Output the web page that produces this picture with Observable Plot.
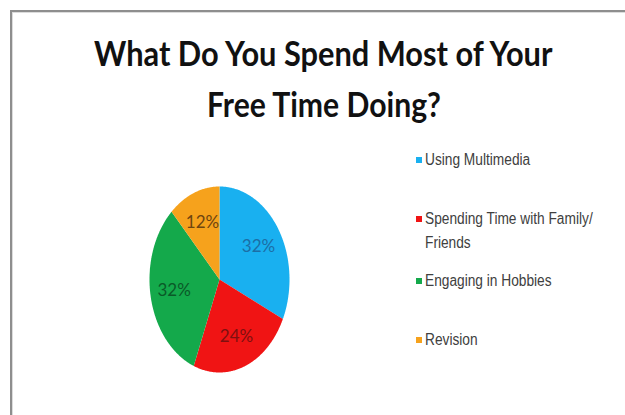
<!DOCTYPE html>
<html><head><meta charset="utf-8">
<script src="https://cdn.jsdelivr.net/npm/d3@7"></script>
<script src="https://cdn.jsdelivr.net/npm/@observablehq/plot@0.6"></script>
<style>
html,body{margin:0;padding:0;background:#fff;}
#chart{position:relative;width:625px;height:415px;overflow:hidden;background:#fff;}
#frame{position:absolute;left:10px;top:10px;right:-10px;bottom:-10px;border-top:2px solid #8e8e8e;border-left:2px solid #8e8e8e;box-shadow:inset 1px 1px 0 #dcdcdc;}
#title{position:absolute;left:11px;top:27px;width:625px;font-family:Lato,"Open Sans","Liberation Sans",sans-serif;font-weight:bold;font-size:34px;line-height:51px;color:#111;text-align:center;}
#title div{height:51px;}
#title span{display:inline-block;white-space:nowrap;transform-origin:center;}
#pie{position:absolute;left:0;top:140px;}
.leg{position:absolute;left:415px;font-family:"Liberation Sans Narrow","Arial Narrow","Liberation Sans",Arial,sans-serif;font-size:16px;line-height:24px;color:#404040;white-space:nowrap;}
.sw{position:absolute;left:1px;top:9px;width:6px;height:6px;}
.lt{display:block;margin-left:10px;transform-origin:left center;}
</style>
</head><body>
<div id="chart"><div id="frame"></div><div id="title"></div><div id="pie"></div></div>
<script>
// ---- data ----
const titleLines = ["What Do You Spend Most of Your", "Free Time Doing?"];
const categories = ["Using Multimedia", "Spending Time with Family/ Friends", "Engaging in Hobbies", "Revision"];
const values = [32, 24, 32, 12];
const pctLabels = ["32%", "24%", "32%", "12%"];
const sliceColors = ["#19b0f0", "#f01414", "#14a94b", "#f6a21c"];
const labelColors = ["#1c6ea6", "#7e1010", "#0a5a28", "#6e4510"];

// ---- title ----
const titleEl = document.getElementById("title");
const titleTargets = [458, 234];
const titleSpans = titleLines.map(t => {
  const d = document.createElement("div");
  const s = document.createElement("span");
  s.textContent = t;
  d.appendChild(s);
  titleEl.appendChild(d);
  return s;
});

// ---- pie ----
const arcs = d3.pie().sort(null).value(d => d)(values);
const slicePts = [];
arcs.forEach((a, i) => {
  slicePts.push({category: categories[i], x: 0, y: 0});
  const n = Math.max(2, Math.ceil((a.endAngle - a.startAngle) / 0.01));
  for (let k = 0; k <= n; k++) {
    const t = a.startAngle + (a.endAngle - a.startAngle) * k / n;
    slicePts.push({category: categories[i], x: Math.sin(t), y: Math.cos(t)});
  }
});
const labelData = arcs.map((a, i) => {
  const m = (a.startAngle + a.endAngle) / 2;
  return {label: pctLabels[i], x: 0.66 * Math.sin(m), y: 0.66 * Math.cos(m), c: labelColors[i]};
});

const svg = Plot.plot({
  width: 400,
  height: 275,
  marginLeft: 149,
  marginRight: 111,
  marginTop: 46,
  marginBottom: 43,
  x: {domain: [-1, 1], axis: null},
  y: {domain: [-1, 1], axis: null},
  color: {domain: categories, range: sliceColors},
  style: {background: "transparent"},
  marks: [
    Plot.line(slicePts, {x: "x", y: "y", z: "category", fill: "category", stroke: "none", curve: "linear"}),
    Plot.text(labelData, {x: "x", y: "y", text: "label", fill: d => d.c, fontSize: 17, fontFamily: "Lato, 'Open Sans', sans-serif"})
  ]
});
document.getElementById("pie").appendChild(svg);

// ---- legend ----
const chart = document.getElementById("chart");
const legendTops = [148, 207, 269, 328];
const legTexts = [];
categories.forEach((c, i) => {
  const item = document.createElement("div");
  item.className = "leg";
  item.style.top = legendTops[i] + "px";
  const sw = document.createElement("div");
  sw.className = "sw";
  sw.style.background = sliceColors[i];
  item.appendChild(sw);
  const lines = c.includes("/ ") ? [c.slice(0, c.indexOf("/ ") + 1), c.slice(c.indexOf("/ ") + 2)] : [c];
  lines.forEach(l => {
    const s = document.createElement("span");
    s.className = "lt";
    s.textContent = l;
    item.appendChild(s);
    legTexts.push(s);
  });
  chart.appendChild(item);
});

function fit() {
  titleSpans.forEach((s, i) => {
    const w = s.offsetWidth;
    if (w) s.style.transform = `scaleX(${titleTargets[i] / w})`;
  });
  const ref = legTexts[1];
  const span = document.createElement("span");
  span.style.cssText = "display:inline-block;white-space:nowrap;";
  span.textContent = ref.textContent;
  ref.parentNode.appendChild(span);
  const w = span.offsetWidth;
  span.remove();
  if (w) legTexts.forEach(s => { s.style.transform = `scaleX(${168 / w})`; });
}
fit();
if (document.fonts) document.fonts.ready.then(fit);
</script>
</body></html>
